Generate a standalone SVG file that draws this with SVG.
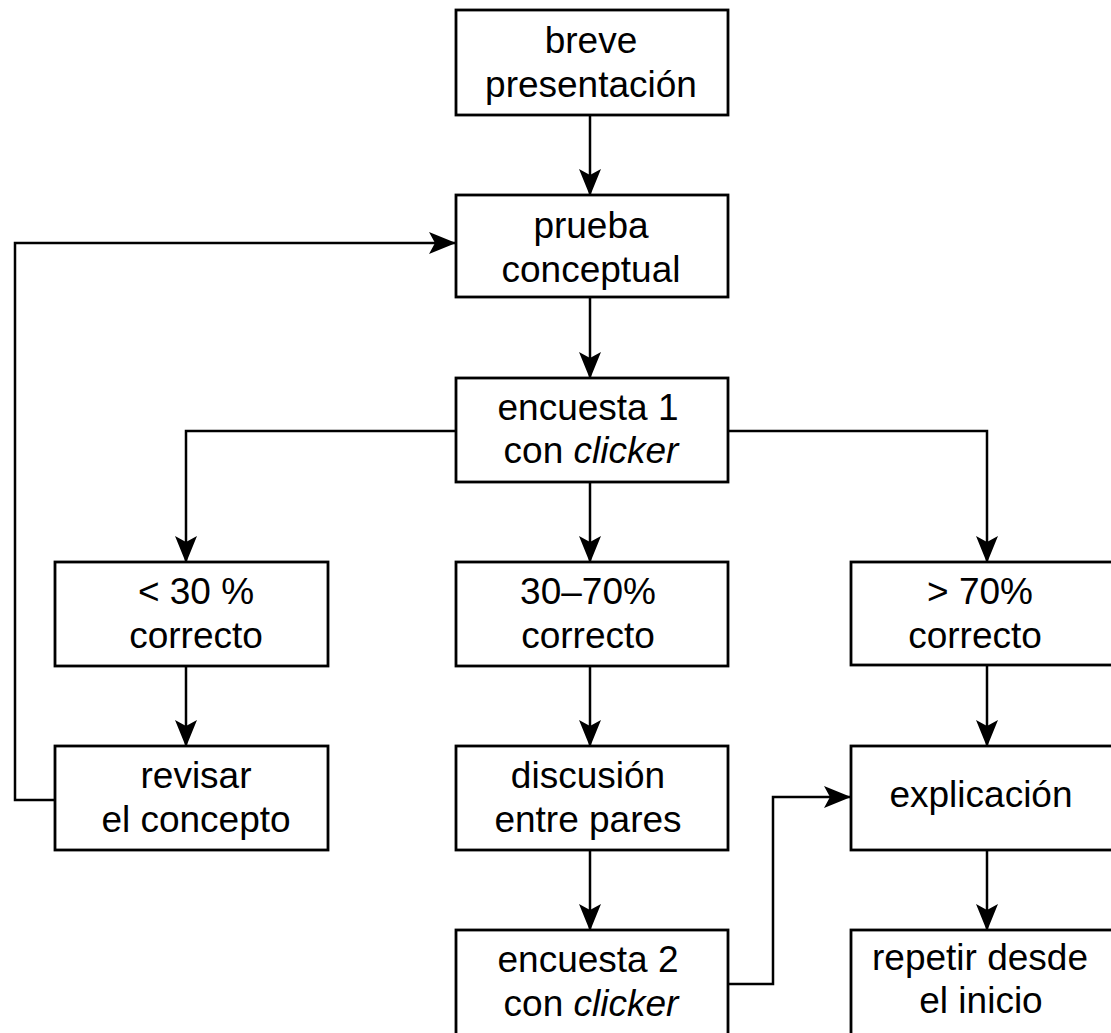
<svg xmlns="http://www.w3.org/2000/svg" width="1111" height="1033" viewBox="0 0 1111 1033">
<style>
.box{fill:#fff;stroke:#000;stroke-width:2.8}
.t{font-family:"Liberation Sans",Arial,sans-serif;font-size:37px;fill:#000;text-anchor:middle}
.it{font-style:italic}
.c{fill:none;stroke:#000;stroke-width:2.5;marker-end:url(#ah)}
</style>
<defs>
<marker id="ah" viewBox="0 0 27 22" refX="26" refY="11" markerWidth="27" markerHeight="22" markerUnits="userSpaceOnUse" orient="auto">
<path d="M0,0 L27,11 L0,22 L6,11 z" fill="#000"/>
</marker>
</defs>
<rect width="1111" height="1033" fill="#fff"/>
<g id="connectors">
<path class="c" d="M590,115 V195"/>
<path class="c" d="M590,297 V378"/>
<path class="c" d="M456,431 H186 V562"/>
<path class="c" d="M590,482 V562"/>
<path class="c" d="M728,431 H987 V562"/>
<path class="c" d="M186,666 V746"/>
<path class="c" d="M590,666 V746"/>
<path class="c" d="M987,665 V746"/>
<path class="c" d="M590,850 V930"/>
<path class="c" d="M987,850 V930"/>
<path class="c" d="M55,800 H15 V243 H455"/>
<path class="c" d="M728,984 H773 V797 H850"/>
</g>
<g id="n1"><rect class="box" x="456" y="10" width="272" height="105"/><text class="t" x="591" y="53">breve</text><text class="t" x="591" y="97">presentación</text></g>
<g id="n2"><rect class="box" x="456" y="195" width="272" height="102"/><text class="t" x="591" y="238">prueba</text><text class="t" x="591" y="282">conceptual</text></g>
<g id="n3"><rect class="box" x="456" y="378" width="272" height="104"/><text class="t" x="588" y="420">encuesta 1</text><text class="t" x="591" y="463">con <tspan class="it">clicker</tspan></text></g>
<g id="n4"><rect class="box" x="55" y="562" width="273" height="104"/><text class="t" x="196" y="604">&lt; 30 %</text><text class="t" x="196" y="648">correcto</text></g>
<g id="n5"><rect class="box" x="456" y="562" width="272" height="104"/><text class="t" x="588" y="604">30–70%</text><text class="t" x="588" y="648">correcto</text></g>
<g id="n6"><rect class="box" x="851" y="562" width="273" height="103"/><text class="t" x="980" y="604">&gt; 70%</text><text class="t" x="975" y="648">correcto</text></g>
<g id="n7"><rect class="box" x="55" y="746" width="273" height="104"/><text class="t" x="196" y="788">revisar</text><text class="t" x="196" y="832">el concepto</text></g>
<g id="n8"><rect class="box" x="456" y="746" width="272" height="104"/><text class="t" x="588" y="788">discusión</text><text class="t" x="588" y="832">entre pares</text></g>
<g id="n9"><rect class="box" x="851" y="746" width="273" height="104"/><text class="t" x="981" y="807">explicación</text></g>
<g id="n10"><rect class="box" x="456" y="930" width="272" height="105"/><text class="t" x="588" y="972">encuesta 2</text><text class="t" x="591" y="1016">con <tspan class="it">clicker</tspan></text></g>
<g id="n11"><rect class="box" x="851" y="930" width="273" height="105"/><text class="t" x="980" y="970">repetir desde</text><text class="t" x="981" y="1013">el inicio</text></g>
</svg>
